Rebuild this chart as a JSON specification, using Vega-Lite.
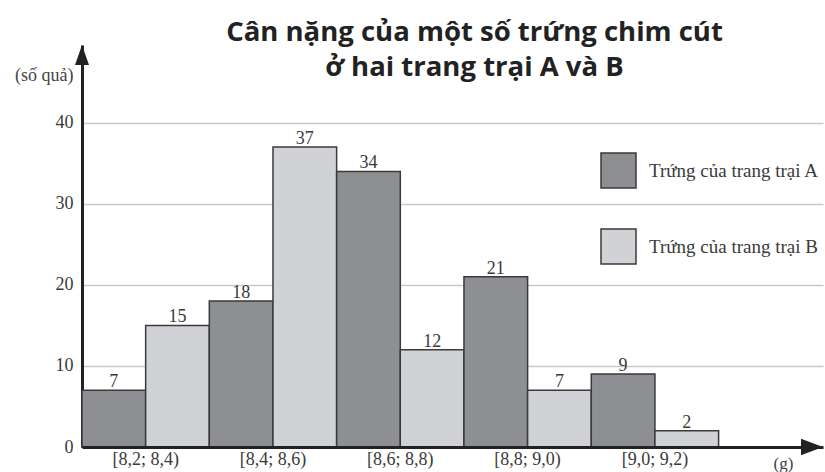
{
  "$schema": "https://vega.github.io/schema/vega-lite/v6.json",
  "width": 741,
  "height": 402,
  "autosize": {"type": "none"},
  "padding": {"left": 82, "top": 45, "right": 2, "bottom": 25},
  "background": "white",
  "config": {
    "view": {"stroke": null},
    "font": "Liberation Serif"
  },
  "title": {
    "text": ["Cân nặng của một số trứng chim cút", "ở hai trang trại A và B"],
    "font": "Open Sans",
    "fontWeight": 700,
    "fontSize": 27.5,
    "lineHeight": 35,
    "color": "#222222",
    "anchor": "middle",
    "frame": "group",
    "dx": 22,
    "offset": -36
  },
  "data": {
    "values": [
      {"khoang": "[8,2; 8,4)", "trai": "Trứng của trang trại A", "so_qua": 7},
      {"khoang": "[8,2; 8,4)", "trai": "Trứng của trang trại B", "so_qua": 15},
      {"khoang": "[8,4; 8,6)", "trai": "Trứng của trang trại A", "so_qua": 18},
      {"khoang": "[8,4; 8,6)", "trai": "Trứng của trang trại B", "so_qua": 37},
      {"khoang": "[8,6; 8,8)", "trai": "Trứng của trang trại A", "so_qua": 34},
      {"khoang": "[8,6; 8,8)", "trai": "Trứng của trang trại B", "so_qua": 12},
      {"khoang": "[8,8; 9,0)", "trai": "Trứng của trang trại A", "so_qua": 21},
      {"khoang": "[8,8; 9,0)", "trai": "Trứng của trang trại B", "so_qua": 7},
      {"khoang": "[9,0; 9,2)", "trai": "Trứng của trang trại A", "so_qua": 9},
      {"khoang": "[9,0; 9,2)", "trai": "Trứng của trang trại B", "so_qua": 2}
    ]
  },
  "layer": [
    {
      "layer": [
        {
          "mark": {"type": "bar", "stroke": "#3a3a3a", "strokeWidth": 1.5},
          "encoding": {
            "x": {
              "field": "khoang",
              "type": "nominal",
              "sort": null,
              "scale": {"paddingInner": 0, "paddingOuter": 0.41, "align": 0},
              "axis": {
                "title": "(g)",
                "titleX": 701,
                "titleY": 16,
                "titleAlign": "center",
                "titleBaseline": "middle",
                "titleFont": "Liberation Serif",
                "titleFontSize": 17,
                "titleFontWeight": "normal",
                "titleColor": "#444444",
                "labelAngle": 0,
                "labelFontSize": 18,
                "labelColor": "#3a3a3a",
                "labelPadding": 3,
                "ticks": false,
                "grid": false,
                "domainColor": "#222222",
                "domainWidth": 3,
                "zindex": 1
              }
            },
            "xOffset": {
              "field": "trai",
              "type": "nominal",
              "scale": {"paddingInner": 0, "paddingOuter": 0}
            },
            "y": {
              "field": "so_qua",
              "type": "quantitative",
              "scale": {"domain": [0, 49.6], "nice": false},
              "axis": {
                "title": "(số quả)",
                "titleAngle": 0,
                "titleX": -9,
                "titleY": 30,
                "titleAlign": "right",
                "titleBaseline": "middle",
                "titleFont": "Liberation Serif",
                "titleFontSize": 18,
                "titleFontWeight": "normal",
                "titleColor": "#444444",
                "values": [0, 10, 20, 30, 40],
                "grid": true,
                "gridColor": "#c9c9c9",
                "gridWidth": 1.5,
                "ticks": false,
                "labelPadding": 9,
                "labelFontSize": 18,
                "labelColor": "#3a3a3a",
                "domainColor": "#222222",
                "domainWidth": 3
              }
            },
            "fill": {
              "field": "trai",
              "type": "nominal",
              "scale": {"range": ["#8d8f92", "#d0d2d5"]},
              "legend": {
                "title": null,
                "orient": "none",
                "legendX": 518,
                "legendY": 107,
                "symbolType": "square",
                "symbolSize": 1225,
                "symbolStrokeColor": "#3a3a3a",
                "symbolStrokeWidth": 1.5,
                "symbolOpacity": 1,
                "rowPadding": 35,
                "labelOffset": 12,
                "labelFont": "Liberation Serif",
                "labelFontSize": 19,
                "labelColor": "#3a3a3a",
                "labelLimit": 0
              }
            }
          }
        },
        {
          "mark": {"type": "text", "baseline": "alphabetic", "dy": -3, "fontSize": 18, "color": "#3a3a3a"},
          "encoding": {
            "x": {"field": "khoang", "type": "nominal", "sort": null},
            "xOffset": {"field": "trai", "type": "nominal"},
            "y": {"field": "so_qua", "type": "quantitative"},
            "text": {"field": "so_qua", "type": "quantitative"}
          }
        }
      ]
    },
    {
      "data": {"values": [{"mui_ten": "truc_tung"}]},
      "mark": {"type": "point", "shape": "M0,0L0.7,2L-0.7,2Z", "size": 400, "filled": true, "opacity": 1, "color": "#222222"},
      "encoding": {
        "x": {"datum": 0, "type": "quantitative", "scale": {"domain": [0, 1]}, "axis": null},
        "y": {"datum": 49.6, "type": "quantitative"}
      }
    },
    {
      "data": {"values": [{"mui_ten": "truc_hoanh"}]},
      "mark": {"type": "point", "shape": "M0,0L-2,-0.75L-2,0.75Z", "size": 484, "filled": true, "opacity": 1, "color": "#222222"},
      "encoding": {
        "x": {"datum": 1, "type": "quantitative", "scale": {"domain": [0, 1]}, "axis": null},
        "y": {"datum": 0, "type": "quantitative"}
      }
    }
  ],
  "resolve": {"scale": {"x": "independent"}}
}
